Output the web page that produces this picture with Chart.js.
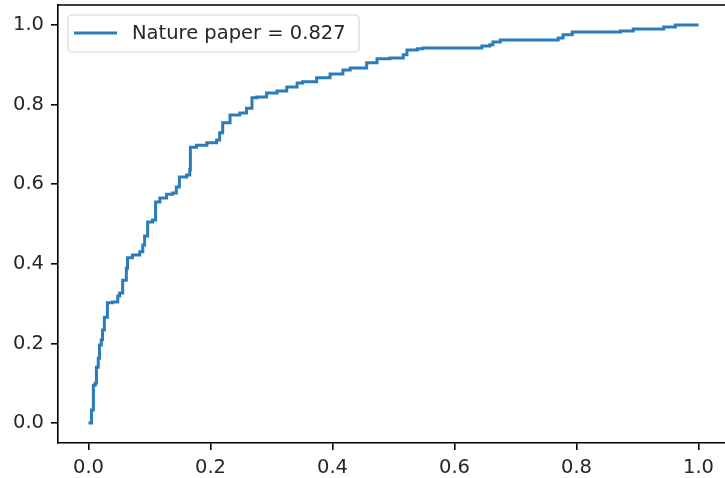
<!DOCTYPE html>
<html>
<head>
<meta charset="utf-8">
<script src="https://cdn.jsdelivr.net/npm/chart.js@4/dist/chart.umd.min.js"></script>
<style>
  html, body { margin: 0; padding: 0; background: #fff; overflow: hidden; }
  canvas { display: block; }
</style>
</head>
<body>
<canvas id="rocChart" width="732" height="478"></canvas>
<script>
// ROC curve (false positive rate / true positive rate)
const fpr = [0, 0.005, 0.005, 0.008, 0.008, 0.011, 0.013, 0.016, 0.018, 0.021, 0.023, 0.026, 0.031,
  0.039, 0.048, 0.051, 0.056, 0.062, 0.064, 0.072, 0.084, 0.089, 0.092, 0.097, 0.105, 0.11, 0.117,
  0.128, 0.138, 0.144, 0.149, 0.161, 0.166, 0.167, 0.177, 0.194, 0.21, 0.215, 0.22, 0.232, 0.248,
  0.259, 0.268, 0.276, 0.292, 0.309, 0.325, 0.342, 0.351, 0.374, 0.396, 0.417, 0.429, 0.45, 0.456,
  0.473, 0.494, 0.516, 0.522, 0.539, 0.548, 0.637, 0.645, 0.658, 0.663, 0.675, 0.757, 0.77, 0.778,
  0.793, 0.867, 0.872, 0.893, 0.938, 0.943, 0.962, 1.0];
const tpr = [0, 0, 0.033, 0.045, 0.095, 0.1, 0.14, 0.163, 0.196, 0.209, 0.234, 0.266, 0.302,
  0.304, 0.319, 0.327, 0.359, 0.389, 0.415, 0.422, 0.43, 0.447, 0.47, 0.505, 0.51, 0.555, 0.565,
  0.575, 0.578, 0.593, 0.618, 0.623, 0.636, 0.693, 0.698, 0.704, 0.711, 0.729, 0.754, 0.774, 0.779,
  0.791, 0.817, 0.819, 0.829, 0.834, 0.844, 0.854, 0.857, 0.867, 0.877, 0.887, 0.892, 0.892, 0.905,
  0.915, 0.917, 0.925, 0.937, 0.94, 0.942, 0.942, 0.947, 0.95, 0.957, 0.962, 0.962, 0.967, 0.975,
  0.982, 0.982, 0.985, 0.99, 0.99, 0.995, 1.0, 1.0];
const seriesLabel = 'Nature paper = 0.827';
const xTicks = [0, 0.2, 0.4, 0.6, 0.8, 1.0];
const yTicks = [0, 0.2, 0.4, 0.6, 0.8, 1.0];

const lineColor = '#2a7dba';
const textColor = '#262626';
const fontSpec = { family: 'DejaVu Sans', size: 19.5 };

// top spine + legend box in the upper left, like matplotlib
const framePlugin = {
  id: 'frame',
  afterDraw(chart) {
    const { ctx, chartArea } = chart;
    ctx.save();
    ctx.strokeStyle = '#000';
    ctx.lineWidth = 1.6;
    ctx.beginPath();
    ctx.moveTo(chartArea.left - 0.8, chartArea.top);
    ctx.lineTo(chartArea.right, chartArea.top);
    ctx.lineTo(chartArea.right, chartArea.bottom);
    ctx.stroke();

    // legend
    const x = chartArea.left + 10, y = chartArea.top + 10, w = 291, h = 37, r = 4;
    ctx.beginPath();
    ctx.roundRect(x, y, w, h, r);
    ctx.fillStyle = 'rgba(255,255,255,0.8)';
    ctx.fill();
    ctx.strokeStyle = '#d6d6d6';
    ctx.lineWidth = 1.2;
    ctx.stroke();

    const ds = chart.data.datasets[0];
    ctx.strokeStyle = ds.borderColor;
    ctx.lineWidth = 3;
    ctx.beginPath();
    ctx.moveTo(x + 6, y + 18);
    ctx.lineTo(x + 49, y + 18);
    ctx.stroke();

    ctx.fillStyle = textColor;
    ctx.font = fontSpec.size + 'px "' + fontSpec.family + '"';
    ctx.textBaseline = 'middle';
    ctx.fillText(ds.label, x + 64, y + 19);
    ctx.restore();
  }
};

const ctx = document.getElementById('rocChart').getContext('2d');
const rocChart = new Chart(ctx, {
  type: 'line',
  data: {
    datasets: [{
      label: seriesLabel,
      data: fpr.map((v, i) => ({ x: v, y: tpr[i] })),
      borderColor: lineColor,
      borderWidth: 3,
      pointRadius: 0,
      stepped: 'before',
      fill: false
    }]
  },
  options: {
    responsive: false,
    animation: false,
    layout: { padding: { top: 5, left: 0, right: 3, bottom: 0 } },
    plugins: {
      legend: { display: false },
      tooltip: { enabled: false }
    },
    scales: {
      x: {
        type: 'linear',
        min: -0.05,
        max: 1.05,
        afterBuildTicks: axis => { axis.ticks = xTicks.map(v => ({ value: v })); },
        afterFit: axis => {
          axis.height = 35;
          axis.paddingLeft = 0;
          axis.paddingRight = 0;
        },
        grid: { drawOnChartArea: false, drawTicks: true, tickLength: 7, color: '#000', lineWidth: 1.6 },
        border: { display: true, color: '#000', width: 1.6 },
        ticks: {
          padding: 6,
          color: textColor,
          font: fontSpec,
          maxRotation: 0,
          autoSkip: false,
          callback: v => v.toFixed(1)
        }
      },
      y: {
        type: 'linear',
        min: -0.05,
        max: 1.05,
        afterBuildTicks: axis => { axis.ticks = yTicks.map(v => ({ value: v })); },
        afterFit: axis => {
          axis.width = 58;
          axis.paddingTop = 0;
          axis.paddingBottom = 0;
        },
        grid: { drawOnChartArea: false, drawTicks: true, tickLength: 7, color: '#000', lineWidth: 1.6 },
        border: { display: true, color: '#000', width: 1.6 },
        ticks: {
          padding: 7,
          color: textColor,
          font: fontSpec,
          autoSkip: false,
          callback: v => v.toFixed(1)
        }
      }
    }
  },
  plugins: [framePlugin]
});
</script>
</body>
</html>
